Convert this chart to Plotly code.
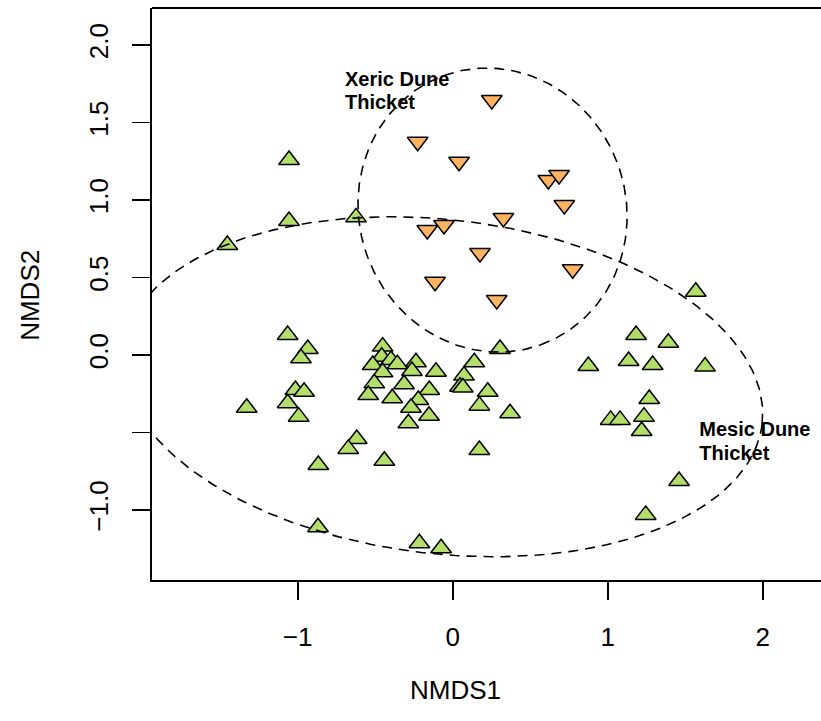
import numpy as np
import plotly.graph_objects as go

# ---- data ----
xeric_x = [0.252, -0.226, 0.041, -0.164, -0.056, 0.327, 0.176, -0.114, 0.284,
           0.617, 0.686, 0.720, 0.774]
xeric_y = [1.645, 1.376, 1.247, 0.806, 0.839, 0.884, 0.658, 0.473, 0.355,
           1.129, 1.161, 0.968, 0.553]

mesic_x = [-1.056, -1.056, -0.624, -1.454, 1.568,
           -1.065, -0.935, -0.979, -1.015, -0.959, -1.065, -0.994, -1.329,
           -0.452, -0.458, -0.398, -0.516, -0.357, -0.452, -0.237, -0.263,
           -0.108, -0.506, -0.545, -0.314, -0.390, -0.151, -0.222, -0.269,
           -0.153, -0.286, 0.139, 0.073, 0.047, 0.065, 0.226, 0.172, 0.305,
           0.370, -0.619, -0.674, -0.441, 0.172, -0.867, -0.869, -0.215,
           -0.075, 1.183, 1.391, 0.875, 1.135, 1.290, 1.628, 1.268, 1.019,
           1.079, 1.234, 1.219, 1.460, 1.245]
mesic_y = [1.258, 0.865, 0.888, 0.710, 0.408,
           0.129, 0.039, -0.021, -0.226, -0.237, -0.312, -0.398, -0.340,
           0.054, -0.011, -0.032, -0.065, -0.060, -0.112, -0.047, -0.103,
           -0.108, -0.183, -0.258, -0.189, -0.279, -0.226, -0.290, -0.340,
           -0.392, -0.441, -0.047, -0.133, -0.205, -0.210, -0.237, -0.327, 0.039,
           -0.376, -0.542, -0.606, -0.682, -0.613, -0.710, -1.112, -1.215,
           -1.247, 0.129, 0.079, -0.071, -0.039, -0.065, -0.075, -0.284, -0.419,
           -0.419, -0.398, -0.490, -0.813, -1.032]

label_lines = ["Xeric Dune", "Thicket", "Mesic Dune", "Thicket"]
label_x = [-0.695, -0.695, 1.591, 1.591]
label_y = [1.771, 1.619, -0.490, -0.645]

x_tickvals = [-1, 0, 1, 2]
x_ticktext = ["\u22121", "0", "1", "2"]
y_tickvals = [-1.0, -0.5, 0.0, 0.5, 1.0, 1.5, 2.0]
y_ticktext = ["\u22121.0", "", "0.0", "0.5", "1.0", "1.5", "2.0"]

# ellipse parameters (centre x, centre y, semi-axis a, semi-axis b, rotation deg)
xeric_ellipse = (0.257, 0.935, 0.923, 0.861, -70.5)
mesic_ellipse = (-0.066, -0.205, 2.076, 1.078, -6.6)


def ellipse_path(params, n=240):
    cx, cy, a, b, deg = params
    th = np.radians(deg)
    t = np.linspace(0, 2 * np.pi, n)
    ex = cx + a * np.cos(th) * np.cos(t) - b * np.sin(th) * np.sin(t)
    ey = cy + a * np.sin(th) * np.cos(t) + b * np.cos(th) * np.sin(t)
    return ex, ey


fig = go.Figure()

fig.add_trace(go.Scatter(
    x=mesic_x, y=mesic_y, mode="markers",
    marker=dict(symbol="triangle-up", size=18, color="#B3DE69",
                line=dict(color="black", width=1.5)),
    showlegend=False, hoverinfo="skip"))

fig.add_trace(go.Scatter(
    x=xeric_x, y=xeric_y, mode="markers",
    marker=dict(symbol="triangle-down", size=18, color="#FDB462",
                line=dict(color="black", width=1.5)),
    showlegend=False, hoverinfo="skip"))

fig.add_trace(go.Scatter(
    x=label_x, y=label_y, mode="text", text=["<b>%s</b>" % s for s in label_lines],
    textposition="middle right",
    textfont=dict(family="Liberation Sans, Arial", size=20, color="black"),
    showlegend=False, hoverinfo="skip"))

for p in (xeric_ellipse, mesic_ellipse):
    ex, ey = ellipse_path(p)
    fig.add_trace(go.Scatter(
        x=ex, y=ey, mode="lines",
        line=dict(color="black", width=1.6, dash="10px,7px"),
        showlegend=False, hoverinfo="skip"))

axis_font = dict(family="Liberation Sans, Arial", size=26, color="black")

fig.update_layout(
    width=821, height=721,
    margin=dict(l=152, r=0, t=8, b=141),
    paper_bgcolor="white", plot_bgcolor="white",
    font=axis_font,
    xaxis=dict(range=[-1.940, 2.376], tickvals=x_tickvals, ticktext=x_ticktext,
               showgrid=False, zeroline=False, showline=True, linecolor="black",
               linewidth=1.8, ticks="outside", ticklen=18, tickwidth=1.6,
               tickcolor="black", tickfont=axis_font, ticklabelstandoff=15),
    yaxis=dict(range=[-1.452, 2.239], tickvals=y_tickvals, ticktext=y_ticktext,
               showgrid=False, zeroline=False, showline=True, linecolor="black",
               linewidth=1.8, ticks="outside", ticklen=18, tickwidth=1.6,
               tickcolor="black", tickfont=axis_font, tickangle=-90,
               ticklabelstandoff=14),
    shapes=[dict(type="line", xref="paper", yref="paper", x0=0, x1=1, y0=1, y1=1,
                 line=dict(color="black", width=1.8))],
    annotations=[
        dict(text="NMDS1", xref="x", yref="paper", x=0.015, y=-0.1924,
             showarrow=False, xanchor="center", yanchor="middle", font=axis_font),
        dict(text="NMDS2", xref="paper", yref="paper", x=-0.1824, y=0.4985,
             showarrow=False, xanchor="center", yanchor="middle", textangle=-90,
             font=axis_font),
    ],
)

fig.write_html("out.html",
               config={"displayModeBar": False, "staticPlot": True},
               post_script="document.body.style.margin='0';"
                           "document.body.style.overflow='hidden';")
